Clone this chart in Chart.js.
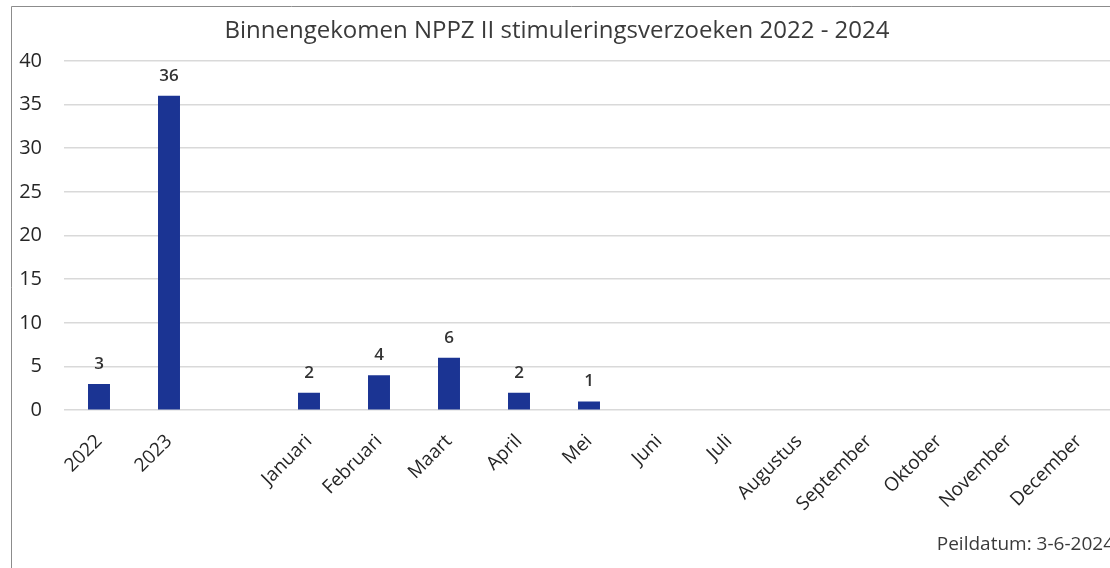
<!DOCTYPE html>
<html>
<head>
<meta charset="utf-8">
<script src="https://cdn.jsdelivr.net/npm/chart.js@4/dist/chart.umd.min.js"></script>
<style>
  html, body { margin: 0; padding: 0; background: #ffffff; overflow: hidden; }
  #wrap { width: 1131px; height: 568px; }
</style>
</head>
<body>
<div id="wrap"><canvas id="c" width="1131" height="568"></canvas></div>
<script>
const categories = ['2022', '2023', '', 'Januari', 'Februari', 'Maart', 'April', 'Mei', 'Juni', 'Juli', 'Augustus', 'September', 'Oktober', 'November', 'December'];
const requests = [3, 36, null, 2, 4, 6, 2, 1, null, null, null, null, null, null, null];
const yTicks = { min: 0, max: 40, step: 5 };
const titleText = 'Binnengekomen NPPZ II stimuleringsverzoeken 2022 - 2024';
const footnoteText = 'Peildatum: 3-6-2024';

const FONT = "'Open Sans', 'Noto Sans', sans-serif";

const decor = {
  id: 'decor',
  beforeDraw(chart) {
    const c = chart.ctx;
    c.save();
    c.strokeStyle = '#8c8c8c';
    c.lineWidth = 1;
    c.beginPath();
    c.moveTo(11.5, 568);
    c.lineTo(11.5, 6.5);
    c.lineTo(chart.width, 6.5);
    c.stroke();
    c.restore();
  },
  afterDatasetsDraw(chart) {
    const c = chart.ctx;
    const meta = chart.getDatasetMeta(0);
    c.save();
    c.font = "600 17px " + FONT;
    c.fillStyle = '#333333';
    c.textAlign = 'center';
    c.textBaseline = 'middle';
    meta.data.forEach((bar, i) => {
      const v = requests[i];
      if (v === null || v === undefined) return;
      c.fillText(String(v), bar.x, bar.y - 20);
    });
    c.restore();
  }
};

new Chart(document.getElementById('c'), {
  type: 'bar',
  data: {
    labels: categories,
    datasets: [{
      data: requests,
      backgroundColor: '#1b3493',
      borderWidth: 0,
      categoryPercentage: 1,
      barPercentage: 0.314
    }]
  },
  options: {
    responsive: false,
    animation: false,
    layout: { padding: { left: 0, right: 17, top: 0, bottom: 0 } },
    plugins: {
      legend: { display: false },
      tooltip: { enabled: false },
      title: {
        display: true,
        text: titleText,
        color: '#3a3a3a',
        font: { family: FONT, size: 24, weight: 'normal' },
        padding: { top: 17, bottom: 15 }
      },
      subtitle: {
        display: true,
        text: footnoteText,
        position: 'bottom',
        align: 'end',
        color: '#3a3a3a',
        font: { family: FONT, size: 19, weight: 'normal' },
        padding: { top: 0, bottom: 12 }
      }
    },
    scales: {
      x: {
        grid: { display: false },
        border: { display: false },
        ticks: {
          autoSkip: false,
          maxRotation: 45,
          minRotation: 45,
          color: '#262626',
          font: { family: FONT, size: 19 },
          padding: 12
        },
        afterFit(scale) { scale.height = 123; }
      },
      y: {
        min: yTicks.min,
        max: yTicks.max,
        border: { display: false },
        grid: { color: '#d9d9d9', lineWidth: 1.5, drawTicks: false },
        ticks: {
          stepSize: yTicks.step,
          color: '#262626',
          font: { family: FONT, size: 20 },
          padding: 22
        },
        afterFit(scale) { scale.width = 64; }
      }
    }
  },
  plugins: [decor]
});
</script>
</body>
</html>
